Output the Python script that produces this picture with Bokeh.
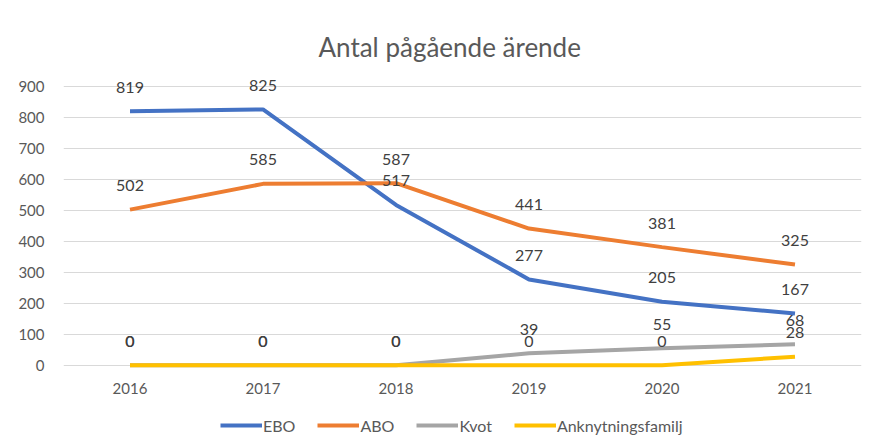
from bokeh.plotting import figure
from bokeh.models import ColumnDataSource, Legend, LegendItem, FactorRange
from bokeh.core.properties import value
from bokeh.embed import file_html
from bokeh.resources import INLINE

years = ["2016", "2017", "2018", "2019", "2020", "2021"]
ebo = [819, 825, 517, 277, 205, 167]
abo = [502, 585, 587, 441, 381, 325]
kvot = [0, 0, 0, 39, 55, 68]
ankn = [0, 0, 0, 0, 0, 28]
series_names = ["EBO", "ABO", "Kvot", "Anknytningsfamilj"]
colors = ["#4472C4", "#ED7D31", "#A5A5A5", "#FFC000"]
yticks = list(range(0, 1000, 100))

FONT = "Lato"
GREY = "#595959"

p = figure(frame_width=798, frame_height=381, x_range=FactorRange(*years), y_range=(-268, 960),
           output_backend="svg", toolbar_location=None,
           min_border_left=63, min_border_right=15, min_border_top=67, min_border_bottom=0)
p.outline_line_color = None
p.title.text = "Antal pågående ärende"
p.title.align = "left"
p.title.offset = 255
p.title.text_font = FONT
p.title.text_font_size = "26px"
p.title.text_font_style = "normal"
p.title.text_color = GREY
p.title.standoff = 9

p.xgrid.grid_line_color = None
p.ygrid.grid_line_color = "#d9d9d9"
p.ygrid.grid_line_width = 1
p.yaxis.ticker = yticks
for ax in (p.xaxis, p.yaxis):
    ax.axis_line_color = None
    ax.major_tick_line_color = None
    ax.minor_tick_line_color = None
    ax.major_label_text_font = FONT
    ax.major_label_text_font_size = "15px"
    ax.major_label_text_color = GREY
p.xaxis.fixed_location = 0
p.xaxis.major_label_standoff = 12
p.yaxis.major_label_standoff = 13

items = []
for name, vals, col in zip(series_names, [ebo, abo, kvot, ankn], colors):
    src = ColumnDataSource(dict(x=years, y=vals))
    r = p.line("x", "y", source=src, line_color=col, line_width=4)
    items.append(LegendItem(label=name, renderers=[r]))
for name, vals in zip(series_names, [ebo, abo, kvot, ankn]):
    src = ColumnDataSource(dict(x=years, y=vals, t=[str(v) for v in vals]))
    p.text("x", "y", text="t", source=src, y_offset=-24, text_align="center",
           text_baseline="middle", text_font=value(FONT), text_font_size="16px",
           text_color="#404040")

legend = Legend(items=items, orientation="horizontal", location=(157, 13),
                label_text_font=FONT, label_text_font_size="16px", label_text_color=GREY,
                border_line_color=None, background_fill_alpha=0,
                glyph_width=42, glyph_height=20, label_height=20,
                spacing=22, label_standoff=1, margin=0, padding=3)
p.add_layout(legend, "center")

open("out.html", "w").write(file_html(p, INLINE))
